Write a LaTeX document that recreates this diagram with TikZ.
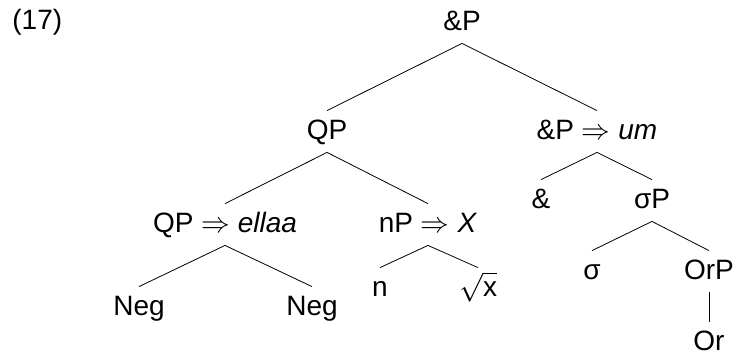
\documentclass[tikz,border=0pt]{standalone}
\usepackage{fontspec}
\setmainfont{Liberation Sans}

\begin{document}
\begin{tikzpicture} [x=0.5pt, y=-0.5pt, font=\fontsize{14pt}{17pt}\selectfont,
    knoten/.style={anchor=base, inner xsep=0pt, inner ysep=3pt, text height=11pt, text depth=3.5pt}]
    \useasboundingbox (0, 0) rectangle (735, 354);

    % Nummer
    \node [anchor=base west, inner sep=0pt] (nummer) at (12, 29) {(17)};

    % Obere Ebenen
    \node [knoten] (undP)   at (462, 30)  {\&P};
    \node [knoten] (qp)     at (327, 139) {QP};
    \node [knoten] (undPum) at (597, 139) {\&P $\Rightarrow$ \textit{um}};

    % Mittlere Ebenen
    \node [knoten] (qpEllaa) at (225, 232) {QP $\Rightarrow$ \textit{ellaa}};
    \node [knoten] (npX)     at (428, 232) {nP $\Rightarrow$ \textit{X}};
    \node [knoten] (und)     at (541, 208) {\&};
    \node [knoten] (sigmaP)  at (652, 208) {σP};

    % Blätter
    \node [knoten] (negL)    at (139, 315) {Neg};
    \node [knoten] (negR)    at (312, 315) {Neg};
    \node [knoten] (n)       at (380, 296) {n};
    \node [knoten] (wurzelX) at (478, 296) {$\sqrt{\mbox{x}}$};
    \node [knoten] (sigma)   at (592, 279) {σ};
    \node [knoten] (orP)     at (709, 279) {OrP};
    \node [knoten] (or)      at (709, 350) {Or};

    % Kanten
    \draw (undP.south) -- (qp.north);
    \draw (undP.south) -- (undPum.north);
    \draw (qp.south) -- (qpEllaa.north);
    \draw (qp.south) -- (npX.north);
    \draw (undPum.south) -- (und.north);
    \draw (undPum.south) -- (sigmaP.north);
    \draw (qpEllaa.south) -- (negL.north);
    \draw (qpEllaa.south) -- (negR.north);
    \draw (npX.south) -- (n.north);
    \draw (npX.south) -- (wurzelX.north);
    \draw (sigmaP.south) -- (sigma.north);
    \draw (sigmaP.south) -- (orP.north);
    \draw (orP.south) -- (or.north);
\end{tikzpicture}
\end{document}
